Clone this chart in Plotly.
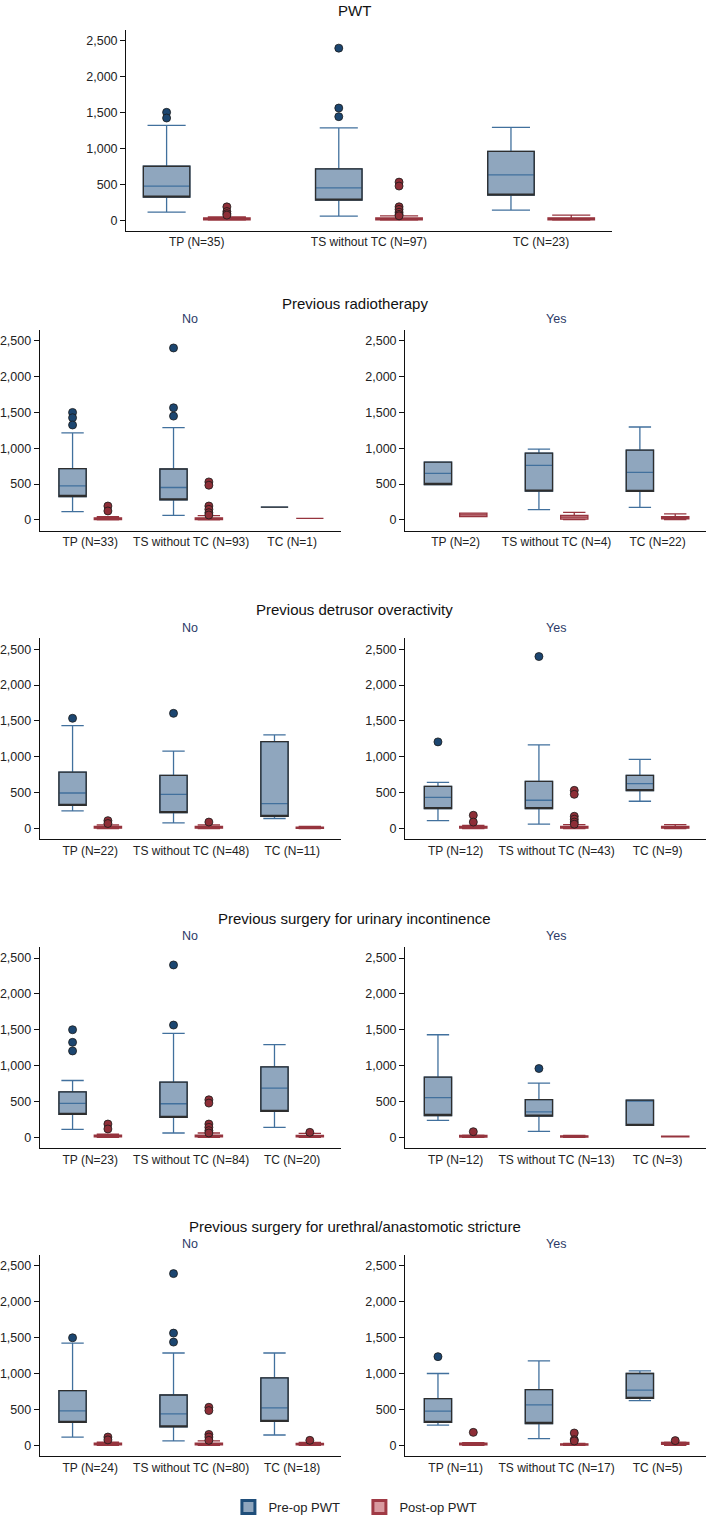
import plotly.graph_objects as go

W, H = 709, 1522
FONT = "Liberation Sans, Arial, sans-serif"

# ---------------- data (lower whisker, q1, median, q3, upper whisker) ----------------
pwt_labels = ["TP (N=35)", "TS without TC (N=97)", "TC (N=23)"]
pwt_pre = [[111, 320, 473, 751, 1322], [56, 278, 450, 714, 1285], [139, 348, 631, 960, 1294]]
pwt_post = [[0, 5, 12, 30, 45], [0, 5, 12, 30, 60], [0, 5, 15, 32, 70]]
pwt_pre_out = [[1503, 1424], [2398, 1563, 1443], []]
pwt_post_out = [[185, 120, 90, 70], [530, 475, 186, 150, 110, 80, 60], []]

radio_no_labels = ["TP (N=33)", "TS without TC (N=93)", "TC (N=1)"]
radio_no_pre = [[115, 327, 475, 715, 1213], [65, 281, 452, 710, 1287], [180, 180, 180, 180, 180]]
radio_no_post = [[0, 5, 12, 30, 45], [0, 5, 12, 30, 60], [23, 23, 23, 23, 23]]
radio_no_pre_out = [[1499, 1425, 1324], [2398, 1564, 1448], []]
radio_no_post_out = [[194, 125], [530, 484, 194, 148, 101, 69], []]

radio_yes_labels = ["TP (N=2)", "TS without TC (N=4)", "TC (N=22)"]
radio_yes_pre = [[494, 494, 650, 807, 807], [143, 401, 761, 932, 987], [175, 397, 664, 973, 1296]]
radio_yes_post = [[45, 45, 70, 95, 95], [5, 10, 40, 65, 105], [5, 15, 30, 45, 85]]
radio_yes_pre_out = [[], [], []]
radio_yes_post_out = [[], [], []]

detr_no_labels = ["TP (N=22)", "TS without TC (N=48)", "TC (N=11)"]
detr_no_pre = [[245, 324, 495, 787, 1435], [80, 222, 477, 741, 1079], [140, 170, 347, 1213, 1306]]
detr_no_post = [[0, 5, 12, 30, 50], [0, 5, 12, 30, 50], [0, 3, 8, 20, 30]]
detr_no_pre_out = [[1537], [1606], []]
detr_no_post_out = [[110, 70], [90], []]

detr_yes_labels = ["TP (N=12)", "TS without TC (N=43)", "TC (N=9)"]
detr_yes_pre = [[110, 278, 435, 588, 644], [60, 278, 394, 657, 1167], [380, 528, 625, 741, 963]]
detr_yes_post = [[0, 5, 12, 30, 45], [0, 5, 12, 30, 55], [0, 5, 15, 30, 55]]
detr_yes_pre_out = [[1208], [2398], []]
detr_yes_post_out = [[185, 90], [532, 477, 171, 130, 90, 60], []]

uri_no_labels = ["TP (N=23)", "TS without TC (N=84)", "TC (N=20)"]
uri_no_pre = [[111, 319, 472, 634, 792], [60, 278, 468, 769, 1449], [139, 361, 685, 981, 1292]]
uri_no_post = [[0, 5, 12, 30, 45], [0, 5, 12, 30, 60], [0, 5, 10, 25, 55]]
uri_no_pre_out = [[1500, 1324, 1204], [2403, 1565], []]
uri_no_post_out = [[185, 116], [523, 477, 185, 139, 93, 60], [69]]

uri_yes_labels = ["TP (N=12)", "TS without TC (N=13)", "TC (N=3)"]
uri_yes_pre = [[235, 304, 553, 840, 1430], [83, 295, 355, 526, 756], [166, 166, 517, 517, 517]]
uri_yes_post = [[0, 3, 10, 25, 30], [0, 3, 8, 20, 25], [5, 5, 10, 15, 15]]
uri_yes_pre_out = [[], [959], []]
uri_yes_post_out = [[78], [], []]

ureth_no_labels = ["TP (N=24)", "TS without TC (N=80)", "TC (N=18)"]
ureth_no_pre = [[115, 318, 480, 761, 1425], [60, 258, 438, 701, 1287], [143, 332, 521, 941, 1287]]
ureth_no_post = [[0, 5, 12, 30, 45], [0, 5, 12, 30, 60], [0, 5, 10, 25, 40]]
ureth_no_pre_out = [[1499], [2394, 1564, 1439], []]
ureth_no_post_out = [[115, 75], [530, 484, 152, 115, 69], [69]]

ureth_yes_labels = ["TP (N=11)", "TS without TC (N=17)", "TC (N=5)"]
ureth_yes_pre = [[281, 318, 475, 650, 1001], [92, 304, 563, 775, 1176], [623, 655, 770, 1001, 1038]]
ureth_yes_post = [[0, 5, 12, 30, 35], [0, 3, 8, 20, 25], [0, 14, 30, 40, 45]]
ureth_yes_pre_out = [[1236], [], []]
ureth_yes_post_out = [[180], [171, 78, 60], [65]]

series_names = ["Pre-op PWT", "Post-op PWT"]
row_titles = ["PWT", "Previous radiotherapy", "Previous detrusor overactivity",
              "Previous surgery for urinary incontinence",
              "Previous surgery for urethral/anastomotic stricture"]
facet_labels = ["No", "Yes"]
y_ticks = [0, 500, 1000, 1500, 2000, 2500]

# ---------------- styling ----------------
PRE_FILL = "#8FA6BE"
PRE_LINE = "#41709D"
PRE_EDGE = "#2E2E2E"
PRE_DOT = "#1C4670"
POST_FILL = "#D99AA0"
POST_LINE = "#96343E"
POST_DOT = "#8E2E37"
TEXT = "#222222"
FACET = "#2B3A67"

# panel pixel geometry (x0, x1, ytop)
PANEL_H = 201.6
panels = [
    (pwt_labels, pwt_pre, pwt_post, pwt_pre_out, pwt_post_out, (122, 611, 30.2), (-0.41, 2.41)),
    (radio_no_labels, radio_no_pre, radio_no_post, radio_no_pre_out, radio_no_post_out, (35, 338, 331.2), (-0.5, 2.48)),
    (radio_yes_labels, radio_yes_pre, radio_yes_post, radio_yes_pre_out, radio_yes_post_out, (403, 706, 331.2), (-0.5, 2.48)),
    (detr_no_labels, detr_no_pre, detr_no_post, detr_no_pre_out, detr_no_post_out, (35, 338, 641.0), (-0.5, 2.48)),
    (detr_yes_labels, detr_yes_pre, detr_yes_post, detr_yes_pre_out, detr_yes_post_out, (403, 706, 641.0), (-0.5, 2.48)),
    (uri_no_labels, uri_no_pre, uri_no_post, uri_no_pre_out, uri_no_post_out, (35, 338, 951.0), (-0.5, 2.48)),
    (uri_yes_labels, uri_yes_pre, uri_yes_post, uri_yes_pre_out, uri_yes_post_out, (403, 706, 951.0), (-0.5, 2.48)),
    (ureth_no_labels, ureth_no_pre, ureth_no_post, ureth_no_pre_out, ureth_no_post_out, (35, 338, 1260.2), (-0.5, 2.48)),
    (ureth_yes_labels, ureth_yes_pre, ureth_yes_post, ureth_yes_pre_out, ureth_yes_post_out, (403, 706, 1260.2), (-0.5, 2.48)),
]

OFF = 0.175
BOXW = 0.27

fig = go.Figure()
layout_axes = {}

for k, (labels, pre, post, pre_out, post_out, (x0, x1, ytop), xr) in enumerate(panels):
    n = k + 1
    xa = "x" if n == 1 else f"x{n}"
    ya = "y" if n == 1 else f"y{n}"
    xkey = "xaxis" if n == 1 else f"xaxis{n}"
    ykey = "yaxis" if n == 1 else f"yaxis{n}"

    for stats, outs, off, fill, line, dot in [
        (pre, pre_out, -OFF, PRE_FILL, PRE_LINE, PRE_DOT),
        (post, post_out, OFF, POST_FILL, POST_LINE, POST_DOT),
    ]:
        pos = [i + off for i in range(len(stats))]
        lo = [s[0] for s in stats]
        q1 = [s[1] for s in stats]
        md = [s[2] for s in stats]
        q3 = [s[3] for s in stats]
        hi = [s[4] for s in stats]
        fig.add_trace(go.Box(
            x=pos, q1=q1, median=md, q3=q3, lowerfence=lo, upperfence=hi,
            orientation="v", width=BOXW, whiskerwidth=0.82,
            fillcolor=fill, line=dict(color=line, width=1.3),
            boxpoints=False, showlegend=False, hoverinfo="skip",
            xaxis=xa, yaxis=ya))
        if fill == PRE_FILL:
            # dark outline of the pre-op box body
            fig.add_trace(go.Box(
                x=pos, q1=q1, median=q1, q3=q3, lowerfence=q1, upperfence=q3,
                orientation="v", width=BOXW, whiskerwidth=0,
                fillcolor="rgba(0,0,0,0)", line=dict(color=PRE_EDGE, width=1.3),
                boxpoints=False, showlegend=False, hoverinfo="skip",
                xaxis=xa, yaxis=ya))
        ox, oy = [], []
        for i, vals in enumerate(outs):
            for v in vals:
                ox.append(i + off)
                oy.append(v)
        if ox:
            fig.add_trace(go.Scatter(
                x=ox, y=oy, mode="markers",
                marker=dict(size=8, color=dot, line=dict(color="#1a1a1a", width=0.8)),
                showlegend=False, hoverinfo="skip", xaxis=xa, yaxis=ya))

    layout_axes[xkey] = dict(
        domain=[x0 / W, x1 / W], range=list(xr), anchor=ya,
        tickvals=[0, 1, 2], ticktext=labels, ticks="", tickangle=0,
        showgrid=False, zeroline=False,
        showline=True, linecolor="#111111", linewidth=1.2,
        tickfont=dict(family=FONT, size=12, color=TEXT), fixedrange=True)
    layout_axes[ykey] = dict(
        domain=[1 - (ytop + PANEL_H) / H, 1 - ytop / H], range=[-150, 2650], anchor=xa,
        tickvals=y_ticks, tickformat=",d", ticks="outside", ticklen=5, tickwidth=1.2,
        tickcolor="#111111", showgrid=False, zeroline=False,
        showline=True, linecolor="#111111", linewidth=1.2,
        tickfont=dict(family=FONT, size=12.5, color=TEXT), fixedrange=True)

# legend entries
fig.add_trace(go.Scatter(x=[None], y=[None], mode="markers", name=series_names[0],
                         marker=dict(symbol="square", size=13, color=PRE_FILL,
                                     line=dict(color="#1F4E7A", width=3))))
fig.add_trace(go.Scatter(x=[None], y=[None], mode="markers", name=series_names[1],
                         marker=dict(symbol="square", size=13, color="#D99AA0",
                                     line=dict(color="#A03A45", width=3))))

annotations = []
title_y = [None, 305, 612, 922, 1231]
for t, yy in zip(row_titles, title_y):
    if yy is None:
        annotations.append(dict(text=t, x=352 / W, y=1, xref="paper", yref="paper",
                                showarrow=False, xanchor="center", yanchor="top",
                                font=dict(family=FONT, size=15, color="#111111")))
    else:
        annotations.append(dict(text=t, x=352 / W, y=1 - yy / H, xref="paper", yref="paper",
                                showarrow=False, xanchor="center", yanchor="middle",
                                font=dict(family=FONT, size=15, color="#111111")))
facet_y = [320, 630, 940, 1249]
for yy in facet_y:
    for lab, (x0, x1) in zip(facet_labels, [(35, 338), (403, 706)]):
        annotations.append(dict(text=lab, x=(x0 + x1) / 2 / W, y=1 - yy / H,
                                xref="paper", yref="paper", showarrow=False,
                                xanchor="center", yanchor="middle",
                                font=dict(family=FONT, size=12.5, color=FACET)))

fig.update_layout(
    width=W, height=H, margin=dict(l=0, r=0, t=0, b=0),
    paper_bgcolor="white", plot_bgcolor="white",
    boxmode="overlay",
    showlegend=True,
    legend=dict(orientation="h", x=225 / W, y=1 - 1513 / H, xanchor="left", yanchor="middle",
                font=dict(family=FONT, size=13, color=TEXT), entrywidth=86, entrywidthmode="pixels",
                bgcolor="rgba(0,0,0,0)", itemclick=False),
    annotations=annotations,
    **layout_axes,
)

fig.write_html("out.html")
